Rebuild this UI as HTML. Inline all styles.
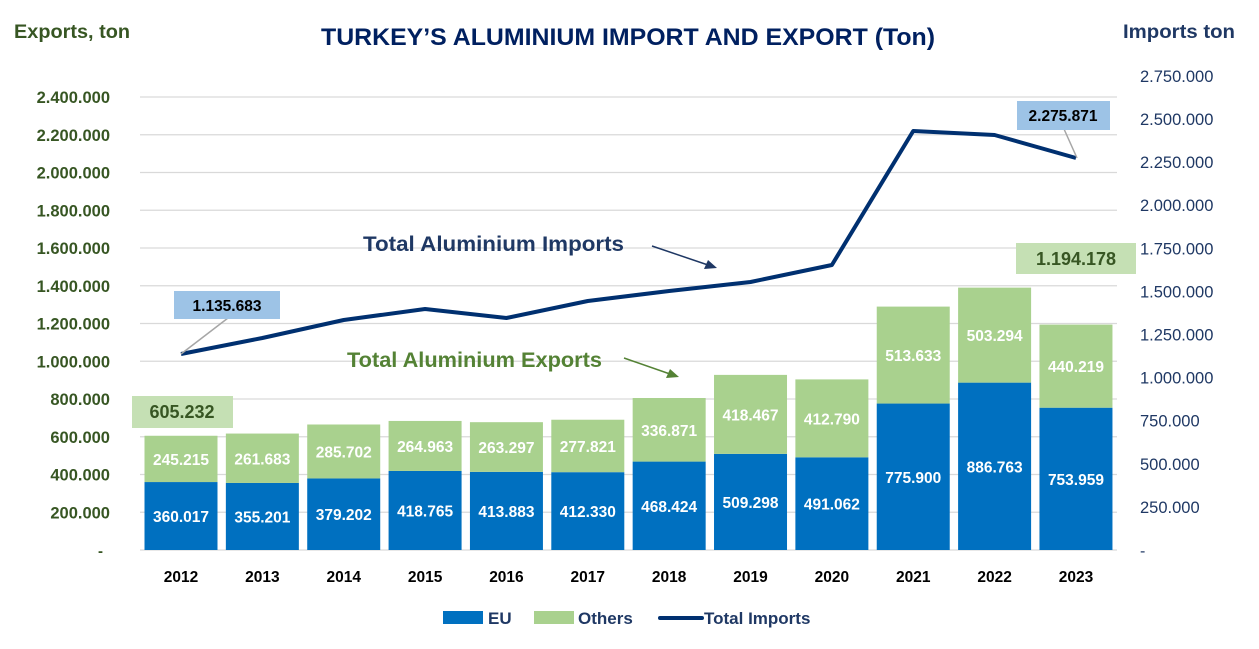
<!DOCTYPE html>
<html><head><meta charset="utf-8"><style>
html,body{margin:0;padding:0;background:#fff;}
svg{display:block;font-family:"Liberation Sans",sans-serif;}
</style></head><body>
<svg id="s" width="1259" height="649" viewBox="0 0 1259 649" xmlns="http://www.w3.org/2000/svg">
<text x="628" y="45" text-anchor="middle" font-size="24.5" font-weight="bold" fill="#002060" textLength="614" lengthAdjust="spacingAndGlyphs">TURKEY’S ALUMINIUM IMPORT AND EXPORT (Ton)</text>
<text x="14" y="38" font-size="19" font-weight="bold" fill="#375623" textLength="116" lengthAdjust="spacingAndGlyphs">Exports, ton</text>
<text x="1123" y="38" font-size="19" font-weight="bold" fill="#1f3864" textLength="112" lengthAdjust="spacingAndGlyphs">Imports ton</text>
<g id="g"></g>
</svg>
<script>
const NS="http://www.w3.org/2000/svg",g=document.getElementById('g');
function el(t,a,txt){const e=document.createElementNS(NS,t);for(const k in a)e.setAttribute(k,a[k]);if(txt!==undefined)e.textContent=txt;g.appendChild(e);return e;}
const B=550,s=37.75/200000;
function fmt(v){return v.toString().replace(/\B(?=(\d{3})+(?!\d))/g,'.');}
for(let i=1;i<=12;i++){const y=B-i*37.75;el('line',{x1:140,x2:1117,y1:y,y2:y,stroke:'#d9d9d9','stroke-width':1.3});
el('text',{x:110,y:y+6,'text-anchor':'end','font-size':16.5,'font-weight':'bold',fill:'#375623'},fmt(i*200000));}
el('line',{x1:140,x2:1117,y1:B,y2:B,stroke:'#d9d9d9','stroke-width':1.3});
el('text',{x:98,y:B+6,'font-size':15,'font-weight':'bold',fill:'#375623'},'-');
for(let i=1;i<=11;i++){const y=B-i*43.1;el('text',{x:1140,y:y+6,'font-size':16.5,fill:'#1f3864'},fmt(i*250000));}
el('text',{x:1140,y:B+6,'font-size':16,fill:'#1f3864'},'-');
const eu=[360017,355201,379202,418765,413883,412330,468424,509298,491062,775900,886763,753959];
const ot=[245215,261683,285702,264963,263297,277821,336871,418467,412790,513633,503294,440219];
const ly=[354,338,320,309,318,301,291,282,265,131,135,158];
const pts=[];
for(let i=0;i<12;i++){const cx=181+i*81.36,w=73,x=cx-w/2;
const he=eu[i]*s,ho=ot[i]*s;
el('rect',{x:x,y:B-he,width:w,height:he,fill:'#0070c0'});
el('rect',{x:x,y:B-he-ho,width:w,height:ho,fill:'#a9d18e'});
el('text',{x:cx,y:B-he/2+6,'text-anchor':'middle','font-size':15.5,'font-weight':'bold',fill:'#fff'},fmt(eu[i]));
el('text',{x:cx,y:B-he-ho/2+6,'text-anchor':'middle','font-size':15.5,'font-weight':'bold',fill:'#fff'},fmt(ot[i]));
el('text',{x:cx,y:582,'text-anchor':'middle','font-size':15.5,'font-weight':'bold',fill:'#000'},String(2012+i));
pts.push(cx+','+ly[i]);}
el('polyline',{points:pts.join(' '),fill:'none',stroke:'#003070','stroke-width':4,'stroke-linejoin':'round'});
el('line',{x1:228,y1:318,x2:181,y2:354,stroke:'#a6a6a6','stroke-width':1.5});
el('rect',{x:174,y:291,width:106,height:28,fill:'#9dc3e6'});
el('text',{x:227,y:311,'text-anchor':'middle','font-size':15.5,'font-weight':'bold',fill:'#000'},'1.135.683');
el('line',{x1:1064,y1:129,x2:1077,y2:158,stroke:'#a6a6a6','stroke-width':1.5});
el('rect',{x:1017,y:101,width:93,height:29,fill:'#9dc3e6'});
el('text',{x:1063,y:121,'text-anchor':'middle','font-size':15.5,'font-weight':'bold',fill:'#000'},'2.275.871');
el('rect',{x:132,y:396,width:101,height:32,fill:'#c5e0b4'});
el('text',{x:182,y:418,'text-anchor':'middle','font-size':18,'font-weight':'bold',fill:'#375623'},'605.232');
el('rect',{x:1016,y:243,width:120,height:31,fill:'#c5e0b4'});
el('text',{x:1076,y:265,'text-anchor':'middle','font-size':18,'font-weight':'bold',fill:'#375623'},'1.194.178');
el('text',{x:363,y:251,'font-size':21,'font-weight':'bold',fill:'#1f3864',textLength:261,lengthAdjust:'spacingAndGlyphs'},'Total Aluminium Imports');
el('line',{x1:652,y1:246,x2:708,y2:265,stroke:'#1f3864','stroke-width':1.5});
el('polygon',{points:'717,268 704,269 708,260',fill:'#1f3864'});
el('text',{x:347,y:367,'font-size':21,'font-weight':'bold',fill:'#548235',textLength:255,lengthAdjust:'spacingAndGlyphs'},'Total Aluminium Exports');
el('line',{x1:624,y1:358,x2:670,y2:374,stroke:'#548235','stroke-width':1.5});
el('polygon',{points:'679,377 666,378 670,369',fill:'#548235'});
el('rect',{x:443,y:611,width:40,height:13,fill:'#0070c0'});
el('text',{x:488,y:624,'font-size':17,'font-weight':'bold',fill:'#1f3864'},'EU');
el('rect',{x:534,y:611,width:40,height:13,fill:'#a9d18e'});
el('text',{x:578,y:624,'font-size':17,'font-weight':'bold',fill:'#1f3864'},'Others');
el('line',{x1:660,y1:618,x2:702,y2:618,stroke:'#003070','stroke-width':4,'stroke-linecap':'round'});
el('text',{x:704,y:624,'font-size':17,'font-weight':'bold',fill:'#1f3864'},'Total Imports');
</script>
</body></html>
